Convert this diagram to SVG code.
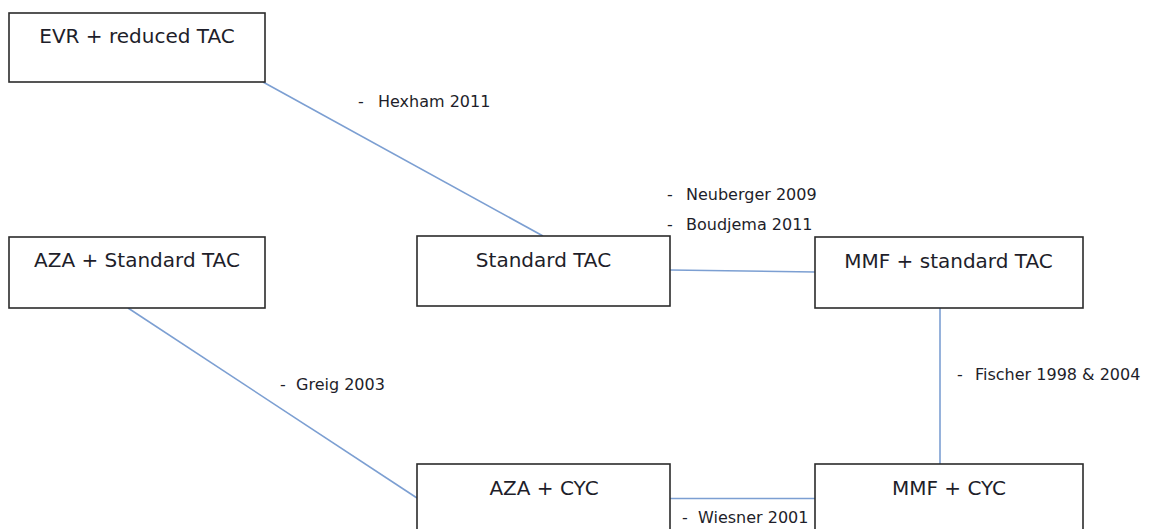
<svg xmlns="http://www.w3.org/2000/svg" width="1153" height="529" viewBox="0 0 1153 529">
  <style>
    .box { fill: #ffffff; stroke: #2b2b2b; stroke-width: 1.6; }
    .name { font-family: "DejaVu Sans", Verdana, sans-serif; font-size: 20px; fill: #1e1e2a; text-anchor: middle; }
    .ref { font-family: "DejaVu Sans", Verdana, sans-serif; font-size: 16px; fill: #1e1e2a; }
    .link { stroke: #7c9fd2; stroke-width: 1.6; fill: none; }
  </style>
  <rect width="1153" height="529" fill="#ffffff"/>

  <!-- connectors between treatment regimens -->
  <g id="connectors">
    <line class="link" x1="263" y1="82" x2="543" y2="236"/>
    <line class="link" x1="670" y1="270" x2="815" y2="272"/>
    <line class="link" x1="940" y1="308" x2="940" y2="464"/>
    <line class="link" x1="128" y1="308" x2="417" y2="498"/>
    <line class="link" x1="670" y1="498.5" x2="815" y2="498.5"/>
  </g>

  <!-- study references on the connectors -->
  <g id="labels">
    <text class="ref" y="107"><tspan x="358">-</tspan><tspan x="378">Hexham 2011</tspan></text>
    <text class="ref" y="200"><tspan x="667">-</tspan><tspan x="686">Neuberger 2009</tspan></text>
    <text class="ref" y="230"><tspan x="667">-</tspan><tspan x="686">Boudjema 2011</tspan></text>
    <text class="ref" y="380"><tspan x="957">-</tspan><tspan x="975">Fischer 1998 &amp; 2004</tspan></text>
    <text class="ref" y="390"><tspan x="280">-</tspan><tspan x="296">Greig 2003</tspan></text>
    <text class="ref" y="523"><tspan x="682">-</tspan><tspan x="698">Wiesner 2001</tspan></text>
  </g>

  <g id="evr-reduced-tac">
    <rect class="box" x="9" y="13" width="256" height="69"/>
    <text class="name" x="137" y="43">EVR + reduced TAC</text>
  </g>

  <g id="aza-standard-tac">
    <rect class="box" x="9" y="237" width="256" height="71"/>
    <text class="name" x="137" y="267">AZA + Standard TAC</text>
  </g>

  <g id="standard-tac">
    <rect class="box" x="417" y="236" width="253" height="70"/>
    <text class="name" x="543.5" y="267">Standard TAC</text>
  </g>

  <g id="mmf-standard-tac">
    <rect class="box" x="815" y="237" width="268" height="71"/>
    <text class="name" x="948.5" y="268">MMF + standard TAC</text>
  </g>

  <g id="aza-cyc">
    <rect class="box" x="417" y="464" width="253" height="80"/>
    <text class="name" x="544" y="495">AZA + CYC</text>
  </g>

  <g id="mmf-cyc">
    <rect class="box" x="815" y="464" width="268" height="80"/>
    <text class="name" x="949" y="495">MMF + CYC</text>
  </g>
</svg>
